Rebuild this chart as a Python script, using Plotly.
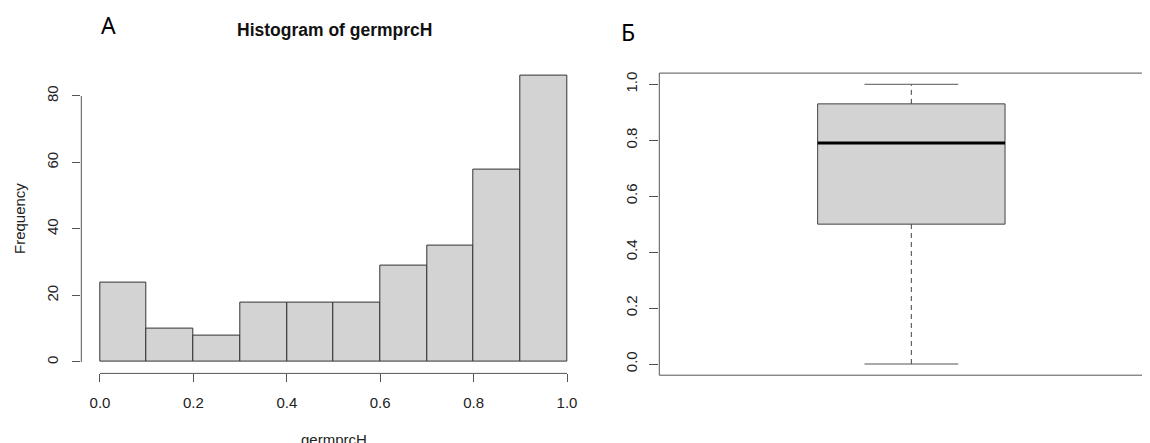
import plotly.graph_objects as go

# ---- data ----
bin_edges = [0.0, 0.1, 0.2, 0.3, 0.4, 0.5, 0.6, 0.7, 0.8, 0.9, 1.0]
counts = [24, 10, 8, 18, 18, 18, 29, 35, 58, 86]
hist_xticks = [0.0, 0.2, 0.4, 0.6, 0.8, 1.0]
hist_xticktext = ["0.0", "0.2", "0.4", "0.6", "0.8", "1.0"]
hist_yticks = [0, 20, 40, 60, 80]

box_stats_names = ["lower", "q1", "median", "q3", "upper"]
box_stats = [0.0, 0.5, 0.79, 0.93, 1.0]
box_yticks = [0.0, 0.2, 0.4, 0.6, 0.8, 1.0]
box_yticktext = ["0.0", "0.2", "0.4", "0.6", "0.8", "1.0"]

lower, q1, med, q3, upper = box_stats
centers = [(bin_edges[i] + bin_edges[i + 1]) / 2 for i in range(len(counts))]
widths = [bin_edges[i + 1] - bin_edges[i] for i in range(len(counts))]

FONT = "Liberation Sans, Arial, sans-serif"
AX = "#555555"
TXT = "#222222"

fig = go.Figure()

# histogram bars
fig.add_trace(go.Bar(
    x=centers, y=counts, width=widths,
    marker=dict(color="#D3D3D3", line=dict(color="#333333", width=1)),
    xaxis="x", yaxis="y", hoverinfo="skip", showlegend=False,
))

# boxplot drawn from statistics
bx, bhw, chw = 1.0, 0.2, 0.1
fig.add_trace(go.Scatter(
    x=[bx - bhw, bx + bhw, bx + bhw, bx - bhw, bx - bhw],
    y=[q1, q1, q3, q3, q1],
    fill="toself", fillcolor="#D3D3D3", mode="lines",
    line=dict(color="#444444", width=1),
    xaxis="x2", yaxis="y2", hoverinfo="skip", showlegend=False,
))
fig.add_trace(go.Scatter(
    x=[bx - bhw, bx + bhw], y=[med, med], mode="lines",
    line=dict(color="#000000", width=3),
    xaxis="x2", yaxis="y2", hoverinfo="skip", showlegend=False,
))
for y0, y1 in [(q3, upper), (lower, q1)]:
    fig.add_trace(go.Scatter(
        x=[bx, bx], y=[y0, y1], mode="lines",
        line=dict(color="#444444", width=1, dash="5px,4px"),
        xaxis="x2", yaxis="y2", hoverinfo="skip", showlegend=False,
    ))
for yc in [lower, upper]:
    fig.add_trace(go.Scatter(
        x=[bx - chw, bx + chw], y=[yc, yc], mode="lines",
        line=dict(color="#555555", width=1),
        xaxis="x2", yaxis="y2", hoverinfo="skip", showlegend=False,
    ))

W, H = 1150, 443
OFF = 8  # page body margin offset
def px(x):
    return (x - OFF) / W
def py(y):
    return (H - (y - OFF)) / H

tickfont = dict(family=FONT, size=15, color=TXT)

fig.update_layout(
    width=W, height=H,
    margin=dict(l=0, r=0, t=0, b=0),
    paper_bgcolor="white", plot_bgcolor="white",
    bargap=0,
    xaxis=dict(domain=[px(81.3), px(585.7)], range=[-0.04, 1.04],
               showgrid=False, zeroline=False, showline=False,
               tickvals=hist_xticks, ticktext=hist_xticktext,
               ticks="outside", ticklen=8, tickcolor=AX, tickwidth=1,
               ticklabelstandoff=8,
               tickfont=tickfont, anchor="y"),
    yaxis=dict(domain=[py(373.4), py(64.6)], range=[-3.44, 89.44],
               showgrid=False, zeroline=False, showline=False,
               tickvals=hist_yticks, ticks="outside", ticklen=8,
               tickcolor=AX, tickwidth=1, tickangle=-90,
               ticklabelstandoff=8,
               tickfont=tickfont, anchor="x"),
    xaxis2=dict(domain=[px(659.3), 1.0], range=[0.462, 1.5265],
                showgrid=False, zeroline=False, showline=False,
                showticklabels=False, ticks="", anchor="y2"),
    yaxis2=dict(domain=[py(375.2), py(73.1)], range=[-0.04, 1.04],
                showgrid=False, zeroline=False, showline=False,
                tickvals=box_yticks, ticktext=box_yticktext,
                ticks="outside", ticklen=9, tickcolor=AX, tickwidth=1,
                tickangle=-90, ticklabelstandoff=6,
                tickfont=tickfont, anchor="x2"),
    shapes=[
        # histogram axis lines (R style, spanning tick range only)
        dict(type="line", xref="x", yref="y domain", x0=0, x1=1, y0=0, y1=0,
             line=dict(color=AX, width=1)),
        dict(type="line", xref="x domain", yref="y", x0=0, x1=0, y0=0, y1=80,
             line=dict(color=AX, width=1)),
        # boxplot frame
        dict(type="line", xref="x2 domain", yref="y2 domain", x0=0, x1=0, y0=0, y1=1,
             line=dict(color=AX, width=1)),
        dict(type="line", xref="x2 domain", yref="y2 domain", x0=0, x1=1, y0=1, y1=1,
             line=dict(color=AX, width=1)),
        dict(type="line", xref="x2 domain", yref="y2 domain", x0=0, x1=1, y0=0, y1=0,
             line=dict(color=AX, width=1)),
    ],
    annotations=[
        dict(text="<b>Histogram of germprcH</b>", x=px(334), y=py(30),
             xref="paper", yref="paper", showarrow=False,
             xanchor="center", yanchor="middle",
             font=dict(family=FONT, size=17.5, color="#111111")),
        dict(text="Frequency", x=px(19), y=py(219), xref="paper", yref="paper",
             showarrow=False, textangle=-90, xanchor="center", yanchor="middle",
             font=dict(family=FONT, size=15, color=TXT)),
        dict(text="germprcH", x=px(334), y=py(439), xref="paper", yref="paper",
             showarrow=False, xanchor="center", yanchor="middle",
             font=dict(family=FONT, size=15, color=TXT)),
        dict(text="A", x=px(108), y=py(25), xref="paper", yref="paper",
             showarrow=False, xanchor="center", yanchor="middle",
             font=dict(family="Noto Sans, sans-serif", size=23, color="#000000")),
        dict(text="Б", x=px(628), y=py(32), xref="paper", yref="paper",
             showarrow=False, xanchor="center", yanchor="middle",
             font=dict(family="Noto Sans, sans-serif", size=23, color="#000000")),
    ],
)

fig.write_html("out.html")
